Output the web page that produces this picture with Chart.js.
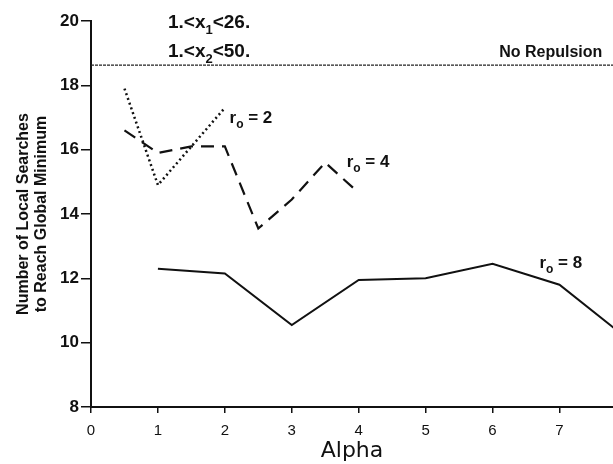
<!DOCTYPE html>
<html>
<head>
<meta charset="utf-8">
<script src="https://cdn.jsdelivr.net/npm/chart.js@4.4.1/dist/chart.umd.min.js"></script>
<style>
  html, body { margin: 0; padding: 0; background: #fff; }
  #wrap { width: 613px; height: 464px; }
</style>
</head>
<body>
<div id="wrap"><canvas id="alphaChart" width="613" height="464"></canvas></div>
<script>
// data
const alphaR2 = [0.5, 1, 2];
const searchesR2 = [17.9, 14.9, 17.3];

const alphaR4 = [0.5, 1, 1.5, 2, 2.5, 3, 3.5, 3.95];
const searchesR4 = [16.6, 15.9, 16.1, 16.1, 13.55, 14.45, 15.6, 14.75];

const alphaR8 = [1, 2, 3, 4, 5, 6, 7, 8];
const searchesR8 = [12.3, 12.15, 10.55, 11.95, 12.0, 12.45, 11.8, 10.15];

const noRepulsionAlpha = [0, 8];
const noRepulsionLevel = [18.63, 18.63];

const yTicks = [8, 10, 12, 14, 16, 18, 20];
const xTicks = [0, 1, 2, 3, 4, 5, 6, 7];

function toPoints(xs, ys) {
  return xs.map((x, i) => ({ x: x, y: ys[i] }));
}

// text labels inside the plot, anchored in data units
const notes = [
  { parts: [['1.<x', 0], ['1', 1], ['<26.', 0]], x: 1.15, y: 19.78, size: 19, align: 'left' },
  { parts: [['1.<x', 0], ['2', 1], ['<50.', 0]], x: 1.15, y: 18.88, size: 19, align: 'left' },
  { parts: [['No Repulsion', 0]], x: 7.64, y: 18.88, size: 16, align: 'right' },
  { parts: [['r', 0], ['o', 1], [' = 2', 0]], x: 2.07, y: 16.83, size: 17, align: 'left' },
  { parts: [['r', 0], ['o', 1], [' = 4', 0]], x: 3.82, y: 15.46, size: 17, align: 'left' },
  { parts: [['r', 0], ['o', 1], [' = 8', 0]], x: 6.70, y: 12.32, size: 17, align: 'left' }
];

const notesPlugin = {
  id: 'notes',
  afterDatasetsDraw(chart) {
    const ctx = chart.ctx;
    const xs = chart.scales.x, ys = chart.scales.y;
    ctx.save();
    ctx.fillStyle = '#111';
    ctx.textBaseline = 'alphabetic';
    ctx.textAlign = 'left';
    notes.forEach(n => {
      const big = 'bold ' + n.size + 'px "Liberation Sans", Arial, sans-serif';
      const small = 'bold ' + Math.round(n.size * 0.7) + 'px "Liberation Sans", Arial, sans-serif';
      let total = 0;
      n.parts.forEach(p => {
        ctx.font = p[1] ? small : big;
        total += ctx.measureText(p[0]).width;
      });
      let px = xs.getPixelForValue(n.x);
      const py = ys.getPixelForValue(n.y);
      if (n.align === 'right') px -= total;
      n.parts.forEach(p => {
        ctx.font = p[1] ? small : big;
        ctx.fillText(p[0], px, py + (p[1] ? n.size * 0.3 : 0));
        px += ctx.measureText(p[0]).width;
      });
    });
    ctx.restore();
  }
};

const ctx = document.getElementById('alphaChart');
new Chart(ctx, {
  type: 'line',
  data: {
    datasets: [
      {
        label: 'No Repulsion',
        data: toPoints(noRepulsionAlpha, noRepulsionLevel),
        borderColor: '#222',
        borderWidth: 1.3,
        borderDash: [3, 1],
        pointRadius: 0
      },
      {
        label: 'r0 = 2',
        data: toPoints(alphaR2, searchesR2),
        borderColor: '#111',
        borderWidth: 2.5,
        borderDash: [2, 3],
        pointRadius: 0
      },
      {
        label: 'r0 = 4',
        data: toPoints(alphaR4, searchesR4),
        borderColor: '#111',
        borderWidth: 2.2,
        borderDash: [13, 8],
        pointRadius: 0
      },
      {
        label: 'r0 = 8',
        data: toPoints(alphaR8, searchesR8),
        borderColor: '#111',
        borderWidth: 2,
        pointRadius: 0
      }
    ]
  },
  options: {
    responsive: false,
    animation: false,
    layout: { padding: { top: 21, right: 0, left: 0, bottom: 0 } },
    plugins: {
      legend: { display: false },
      tooltip: { enabled: false },
      title: { display: false }
    },
    scales: {
      x: {
        type: 'linear',
        min: 0,
        max: 7.8,
        afterBuildTicks: s => { s.ticks = xTicks.map(v => ({ value: v })); },
        afterFit: s => { s.height = 57; },
        ticks: {
          color: '#111',
          padding: 9,
          font: { family: '"Liberation Sans", Arial, sans-serif', size: 15 },
          maxRotation: 0
        },
        grid: { drawOnChartArea: false, color: '#111', lineWidth: 1.5, tickLength: 6 },
        border: { display: true, color: '#111', width: 2 },
        title: {
          display: true,
          text: 'Alpha',
          color: '#111',
          padding: { top: 0, bottom: 0 },
          font: { family: '"DejaVu Sans", sans-serif', size: 22, weight: 'normal' }
        }
      },
      y: {
        type: 'linear',
        min: 8,
        max: 20,
        afterBuildTicks: s => { s.ticks = yTicks.map(v => ({ value: v })); },
        afterFit: s => { s.width = 91; },
        ticks: {
          color: '#111',
          padding: 2,
          font: { family: '"Liberation Sans", Arial, sans-serif', size: 17, weight: 'bold' }
        },
        grid: { drawOnChartArea: false, color: '#111', lineWidth: 1.5, tickLength: 10 },
        border: { display: true, color: '#111', width: 2 },
        title: {
          display: true,
          text: ['Number of Local Searches', 'to Reach Global Minimum'],
          color: '#111',
          padding: { top: 15, bottom: 0 },
          font: { family: '"Liberation Sans", Arial, sans-serif', size: 16, weight: 'bold', lineHeight: 1.1 }
        }
      }
    }
  },
  plugins: [notesPlugin]
});
</script>
</body>
</html>
